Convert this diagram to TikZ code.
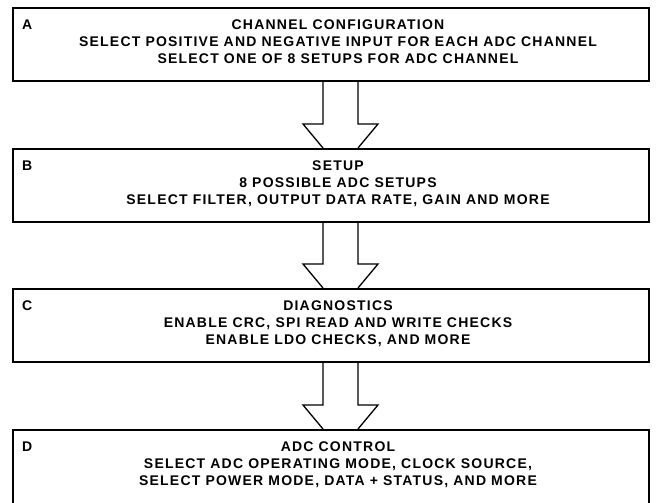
\documentclass[tikz,border=0pt]{standalone}
\usepackage{fontspec}
\setmainfont{Liberation Sans}[LetterSpace=8.7]
\begin{document}
\begin{tikzpicture}[x=1pt,y=-1pt,
  blk/.style={draw,line width=1.9pt,minimum width=636pt,inner sep=0pt,anchor=north west},
  ttl/.style={font=\bfseries\fontsize{14}{17}\selectfont,align=center,inner sep=0pt,anchor=north},
  lbl/.style={font=\bfseries\fontsize{14}{17}\selectfont,inner sep=0pt,anchor=north west},
  arr/.style={line width=1.3pt,line join=miter}]
\useasboundingbox (0,0) rectangle (656,503);
\node[blk,minimum height=73pt] (A) at (12,7) {};
\node[blk,minimum height=73pt] (B) at (12,148) {};
\node[blk,minimum height=73pt] (C) at (12,288) {};
\node[blk,minimum height=90pt] (D) at (12,429) {};
\node[lbl] (la) at (22,20) {A};
\node[lbl] (lb) at (22,161) {B};
\node[lbl] (lc) at (22,301) {C};
\node[lbl] (ld) at (22,442) {D};
\node[ttl] (ta) at (338,20) {CHANNEL CONFIGURATION\\SELECT POSITIVE AND NEGATIVE INPUT FOR EACH ADC CHANNEL\\SELECT ONE OF 8 SETUPS FOR ADC CHANNEL};
\node[ttl] (tb) at (338,161) {SETUP\\8 POSSIBLE ADC SETUPS\\SELECT FILTER, OUTPUT DATA RATE, GAIN AND MORE};
\node[ttl] (tc) at (338,301) {DIAGNOSTICS\\ENABLE CRC, SPI READ AND WRITE CHECKS\\ENABLE LDO CHECKS, AND MORE};
\node[ttl] (td) at (338,442) {ADC CONTROL\\SELECT ADC OPERATING MODE, CLOCK SOURCE,\\SELECT POWER MODE, DATA + STATUS, AND MORE};
\foreach \u/\l in {A/B,B/C,C/D}{
  \draw[arr] (\u.south west -| 323,0) -- ([yshift=24pt]\l.north west -| 323,0) -- ++(-20,0) -- (\l.north west -| 323,0);
  \draw[arr] (\u.south west -| 358,0) -- ([yshift=24pt]\l.north west -| 358,0) -- ++(20,0) -- (\l.north west -| 358,0);
}
\end{tikzpicture}
\end{document}
